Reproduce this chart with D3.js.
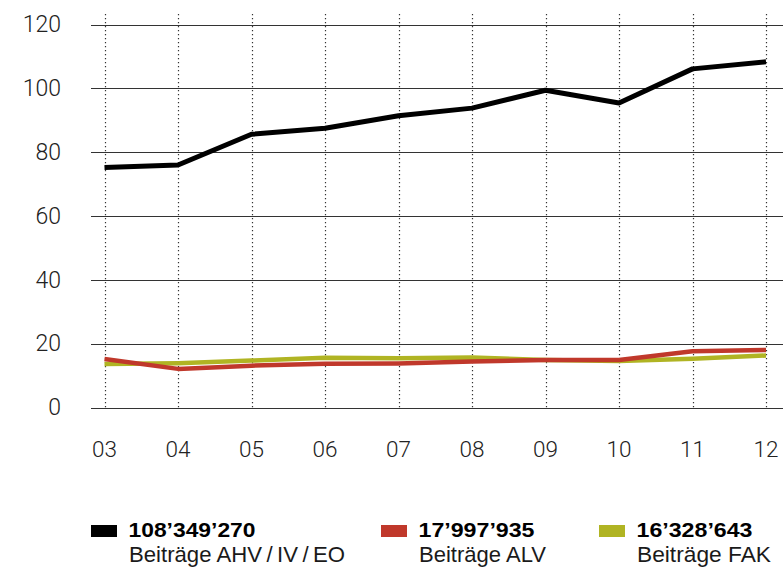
<!DOCTYPE html>
<html><head><meta charset="utf-8">
<script src="https://cdn.jsdelivr.net/npm/d3@7"></script>
<style>body{margin:0;background:#fff}svg{display:block}</style>
</head><body>
<svg id="c" width="783" height="576"></svg>
<script>
const years = ["03","04","05","06","07","08","09","10","11","12"];
const ahv = [75.2, 76.0, 85.6, 87.5, 91.4, 93.8, 99.4, 95.4, 106.1, 108.3];
const alv = [15.2, 12.1, 13.1, 13.7, 13.8, 14.4, 14.9, 14.9, 17.6, 18.0];
const fak = [13.6, 13.9, 14.7, 15.6, 15.4, 15.7, 14.9, 14.6, 15.3, 16.3];
const yTicks = [0, 20, 40, 60, 80, 100, 120];
const legendTotals = ["108\u2019349\u2019270", "17\u2019997\u2019935", "16\u2019328\u2019643"];
const legendNames = ["Beiträge AHV\u2009/\u2009IV\u2009/\u2009EO", "Beiträge ALV", "Beiträge FAK"];
const colors = ["#000000", "#c0382b", "#b0b423"];

const svg = d3.select("#c");
const x = d3.scalePoint().domain(years).range([104.5, 766]);
const y = d3.scaleLinear().domain([0, 120]).range([407.5, 24.5]);
const font = "'Liberation Sans', Arial, sans-serif";
const tickFont = "Roboto, 'Liberation Sans', Arial, sans-serif";

// horizontal gridlines
svg.append("g").selectAll("line").data(yTicks).join("line")
  .attr("x1", 91).attr("x2", 783)
  .attr("y1", d => Math.round(y(d)) + 0.5).attr("y2", d => Math.round(y(d)) + 0.5)
  .attr("stroke", "#333").attr("stroke-width", 1);

// vertical dotted lines
svg.append("g").selectAll("line").data(years).join("line")
  .attr("x1", d => Math.round(x(d)) + 0.5).attr("x2", d => Math.round(x(d)) + 0.5)
  .attr("y1", 14).attr("y2", 409)
  .attr("stroke", "#333").attr("stroke-width", 1.2).attr("stroke-dasharray", "1.2,2.8");

// y-axis labels
svg.append("g").selectAll("text").data(yTicks).join("text")
  .attr("x", 61).attr("y", d => y(d) + 7.8)
  .attr("text-anchor", "end").attr("font-family", tickFont).attr("font-weight", 300).attr("font-size", 23)
  .attr("fill", "#222").text(d => d);

// x-axis labels
svg.append("g").selectAll("text").data(years).join("text")
  .attr("x", d => x(d)).attr("y", 456.8)
  .attr("text-anchor", "middle").attr("font-family", tickFont).attr("font-weight", 300).attr("font-size", 22.5)
  .attr("fill", "#222").text(d => d);

// lines
const line = d3.line().x((d, i) => x(years[i])).y(d => y(d));
const series = [fak, alv, ahv];
const sColors = [colors[2], colors[1], colors[0]];
const widths = [4.5, 4.5, 5];
series.forEach((s, k) => {
  svg.append("path").datum(s).attr("d", line)
    .attr("fill", "none").attr("stroke", sColors[k])
    .attr("stroke-width", widths[k]).attr("stroke-linejoin", "round").attr("stroke-linecap", "butt");
});

// legend
const lx = [91, 381, 599];
const totalW = [127, 116, 116];
const nameW = [216, 127, 134];
const g = svg.append("g");
legendTotals.forEach((t, i) => {
  g.append("rect").attr("x", lx[i]).attr("y", 525).attr("width", 26).attr("height", 12).attr("fill", colors[i]);
  g.append("text").attr("x", lx[i] + 37.5).attr("y", 537.3)
    .attr("font-family", font).attr("font-weight", "bold").attr("font-size", 21)
    .attr("textLength", totalW[i]).attr("lengthAdjust", "spacingAndGlyphs")
    .attr("fill", "#000").text(t);
  g.append("text").attr("x", lx[i] + 38).attr("y", 562.3)
    .attr("font-family", font).attr("font-size", 22)
    .attr("textLength", nameW[i]).attr("lengthAdjust", "spacingAndGlyphs")
    .attr("fill", "#1a1a1a").text(legendNames[i]);
});
</script>
</body></html>
